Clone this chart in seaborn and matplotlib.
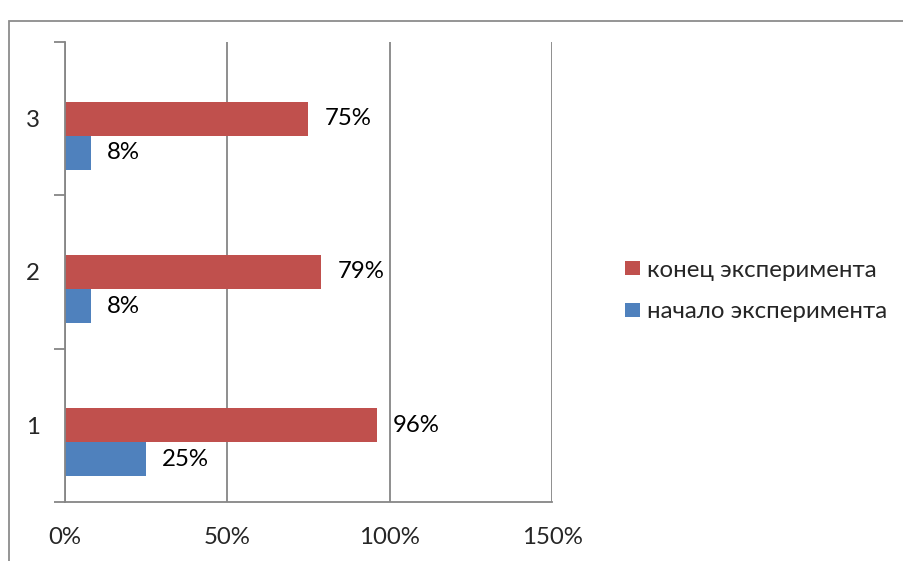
import numpy as np
import pandas as pd
import matplotlib
matplotlib.use("Agg")
import matplotlib.pyplot as plt
from matplotlib.patches import Patch, Rectangle
from matplotlib.ticker import FixedLocator
import seaborn as sns

# Data
categories = ["1", "2", "3"]
end_values = [0.96, 0.79, 0.75]     # конец эксперимента
start_values = [0.25, 0.08, 0.08]   # начало эксперимента
series_names = ["конец эксперимента", "начало эксперимента"]
x_ticks = [0, 0.5, 1.0, 1.5]
x_tick_labels = ["0%", "50%", "100%", "150%"]

RED = "#C0504D"
BLUE = "#4F81BD"
GRAY = "#868686"

sns.set_style("white")
plt.rcParams["font.family"] = ["Lato", "DejaVu Sans"]
FS = 17.3

# A blank third series keeps the Excel-style slot above the red bars
df = pd.DataFrame({
    "cat": categories * 3,
    "series": ["_pad"] * 3 + [series_names[0]] * 3 + [series_names[1]] * 3,
    "value": [0.0] * 3 + end_values + start_values,
})

fig = plt.figure(figsize=(9.04, 5.61), dpi=100)
W, H = 904, 561
ax = fig.add_axes([65 / W, 1 - 502 / H, (552 - 65) / W, 460 / H])

sns.barplot(
    data=df, y="cat", x="value", hue="series",
    order=categories[::-1],
    hue_order=["_pad", series_names[0], series_names[1]],
    palette=["white", RED, BLUE],
    width=2 / 3, orient="h", errorbar=None, saturation=1,
    legend=False, ax=ax, linewidth=0,
)

# Value labels on the two visible series
for cont, vals in zip(ax.containers[1:], [end_values, start_values]):
    ordered = vals[::-1]
    ax.bar_label(cont, labels=[f"{round(v * 100):d}%" for v in ordered],
                 padding=11.5, fontsize=FS, color="black")

ax.set_xlim(0, 1.5)
ax.set_ylim(2.5, -0.5)
ax.set_xticks(x_ticks)
ax.set_xticklabels(x_tick_labels, fontsize=FS)
ax.set_xlabel("")
ax.set_ylabel("")
ax.tick_params(axis="x", length=7, width=1.3, color=GRAY, pad=11)
ax.tick_params(axis="y", which="major", length=0, pad=18, labelsize=FS)
ax.yaxis.set_minor_locator(FixedLocator([-0.5, 0.5, 1.5, 2.5]))
ax.tick_params(axis="y", which="minor", length=8, width=1.3, color=GRAY, left=True)

ax.grid(axis="x", color=GRAY, linewidth=1.3)
ax.grid(axis="y", visible=False)
ax.set_axisbelow(True)
for side in ["top", "right"]:
    ax.spines[side].set_visible(False)
for side in ["left", "bottom"]:
    ax.spines[side].set_color(GRAY)
    ax.spines[side].set_linewidth(1.3)

# Legend
handles = [Patch(facecolor=RED, edgecolor="none"), Patch(facecolor=BLUE, edgecolor="none")]
fig.legend(handles, series_names, loc="center left",
           bbox_to_anchor=(625 / W, 1 - 291 / H), frameon=False,
           fontsize=FS, handlelength=0.62, handleheight=0.5,
           handletextpad=0.3, labelspacing=0.86, borderpad=0, borderaxespad=0)

# Chart area frame
fig.add_artist(Rectangle((9 / W, -0.05), 1.0, 1 - 21 / H + 0.05,
                         transform=fig.transFigure, fill=False,
                         edgecolor="#8C8C8C", linewidth=1.3))

fig.savefig("out.png", dpi=100)
